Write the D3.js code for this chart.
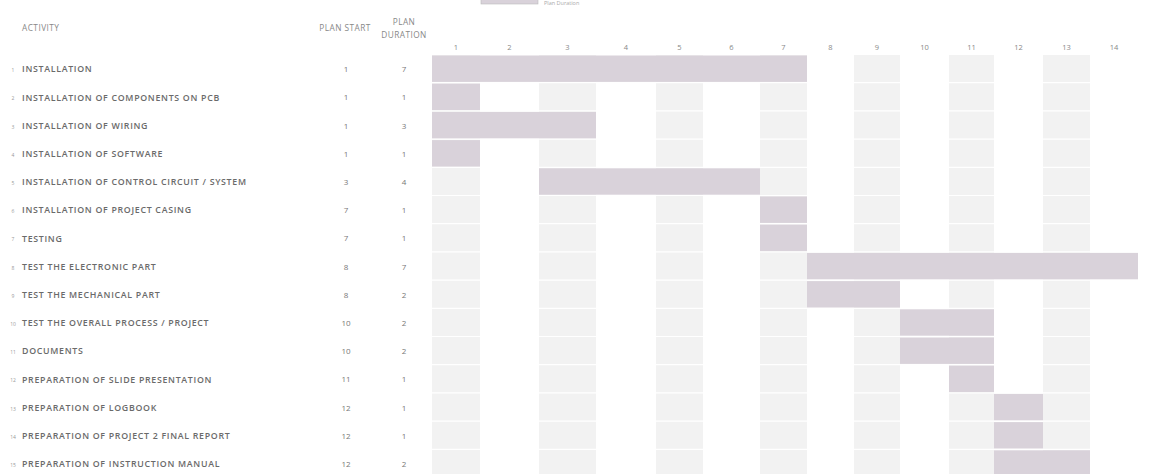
<!DOCTYPE html>
<html>
<head>
<meta charset="utf-8">
<script src="https://cdn.jsdelivr.net/npm/d3@7"></script>
<style>
  html, body { margin: 0; padding: 0; background: #ffffff; }
  svg { display: block; }
  text { font-family: "Open Sans", "Liberation Sans", sans-serif; }
</style>
</head>
<body>
<svg id="chart" width="1155" height="474"></svg>
<script>
// ---- data ----
const activities = [
  "INSTALLATION",
  "INSTALLATION OF COMPONENTS ON PCB",
  "INSTALLATION OF WIRING",
  "INSTALLATION OF SOFTWARE",
  "INSTALLATION OF CONTROL CIRCUIT / SYSTEM",
  "INSTALLATION OF PROJECT CASING",
  "TESTING",
  "TEST THE ELECTRONIC PART",
  "TEST THE MECHANICAL PART",
  "TEST THE OVERALL PROCESS / PROJECT",
  "DOCUMENTS",
  "PREPARATION OF SLIDE PRESENTATION",
  "PREPARATION OF LOGBOOK",
  "PREPARATION OF PROJECT 2 FINAL REPORT",
  "PREPARATION OF INSTRUCTION MANUAL"
];
const planStart    = [1, 1, 1, 1, 3, 7, 7, 8, 8, 10, 10, 11, 12, 12, 12];
const planDuration = [7, 1, 3, 1, 4, 1, 1, 7, 2, 2, 2, 1, 1, 1, 2];
const weekLabels   = [1, 2, 3, 4, 5, 6, 7, 8, 9, 10, 11, 12, 13, 14];
const legendLabel  = "Plan Duration";

// ---- layout (spreadsheet column edges, rows) ----
const colEdges = [432, 480, 539, 596, 656, 703, 760, 807, 854, 900, 949, 994, 1043, 1090, 1138];
const rowTop = 55, rowH = 28.2;

const svg = d3.select("#chart");
const rows = activities.map((a, i) => ({ idx: i + 1, name: a, start: planStart[i], dur: planDuration[i] }));

const x = d3.scaleLinear()
  .domain(d3.range(1, weekLabels.length + 2))
  .range(colEdges);
const y = d3.scaleBand()
  .domain(rows.map(d => d.idx))
  .range([rowTop, rowTop + rows.length * rowH])
  .padding(0);

const barColor = "#d9d2da";
const shadeColor = "#f2f2f2";

// shaded alternating columns
svg.append("g").selectAll("rect")
  .data(weekLabels.filter(w => w % 2 === 1))
  .join("rect")
  .attr("x", w => x(w))
  .attr("y", rowTop)
  .attr("width", w => x(w + 1) - x(w))
  .attr("height", rows.length * rowH + 10)
  .attr("fill", shadeColor);

// faint row separators
svg.append("g").selectAll("line")
  .data(rows)
  .join("line")
  .attr("x1", colEdges[0]).attr("x2", colEdges[colEdges.length - 1])
  .attr("y1", d => y(d.idx) + y.bandwidth() - 0.5)
  .attr("y2", d => y(d.idx) + y.bandwidth() - 0.5)
  .attr("stroke", "#ffffff").attr("stroke-width", 1.2);

// bars
svg.append("g").selectAll("rect")
  .data(rows)
  .join("rect")
  .attr("x", d => x(d.start))
  .attr("y", d => y(d.idx) + 0.5)
  .attr("width", d => x(d.start + d.dur) - x(d.start))
  .attr("height", y.bandwidth() - 1.8)
  .attr("fill", barColor);

// week header labels
svg.append("g").selectAll("text")
  .data(weekLabels)
  .join("text")
  .attr("x", w => (x(w) + x(w + 1)) / 2)
  .attr("y", 50)
  .attr("text-anchor", "middle")
  .attr("font-size", 7.5)
  .attr("fill", "#888")
  .text(w => w);

// column headers
const hdr = svg.append("g").attr("font-size", 8.3).attr("letter-spacing", 0.45).attr("fill", "#888");
hdr.append("text").attr("x", 22).attr("y", 31).text("ACTIVITY");
hdr.append("text").attr("x", 345).attr("y", 31).attr("text-anchor", "middle").text("PLAN START");
hdr.append("text").attr("x", 404).attr("y", 24.5).attr("text-anchor", "middle").text("PLAN");
hdr.append("text").attr("x", 404).attr("y", 38).attr("text-anchor", "middle").text("DURATION");

// row index numbers
svg.append("g").selectAll("text")
  .data(rows)
  .join("text")
  .attr("x", 13)
  .attr("y", d => y(d.idx) + y.bandwidth() / 2 + 3)
  .attr("text-anchor", "middle")
  .attr("font-size", 5)
  .attr("fill", "#999")
  .text(d => d.idx);

// activity labels
svg.append("g").selectAll("text")
  .data(rows)
  .join("text")
  .attr("x", 22)
  .attr("y", d => y(d.idx) + y.bandwidth() / 2 + 3.2)
  .attr("font-size", 8.8)
  .attr("font-weight", 600)
  .attr("letter-spacing", 0.7)
  .attr("fill", "#6a6a6a")
  .text(d => d.name);

// plan start / duration values
svg.append("g").selectAll("text")
  .data(rows)
  .join("text")
  .attr("x", 346)
  .attr("y", d => y(d.idx) + y.bandwidth() / 2 + 3)
  .attr("text-anchor", "middle")
  .attr("font-size", 8)
  .attr("fill", "#777")
  .text(d => d.start);
svg.append("g").selectAll("text")
  .data(rows)
  .join("text")
  .attr("x", 404)
  .attr("y", d => y(d.idx) + y.bandwidth() / 2 + 3)
  .attr("text-anchor", "middle")
  .attr("font-size", 8)
  .attr("fill", "#777")
  .text(d => d.dur);

// legend (top edge of the picture)
svg.append("rect")
  .attr("x", 481).attr("y", -8).attr("width", 57).attr("height", 12)
  .attr("fill", barColor).attr("stroke", "#bbb").attr("stroke-width", 0.6);
svg.append("text")
  .attr("x", 544).attr("y", 5)
  .attr("font-size", 5.5).attr("fill", "#aaa")
  .text(legendLabel);
</script>
</body>
</html>
